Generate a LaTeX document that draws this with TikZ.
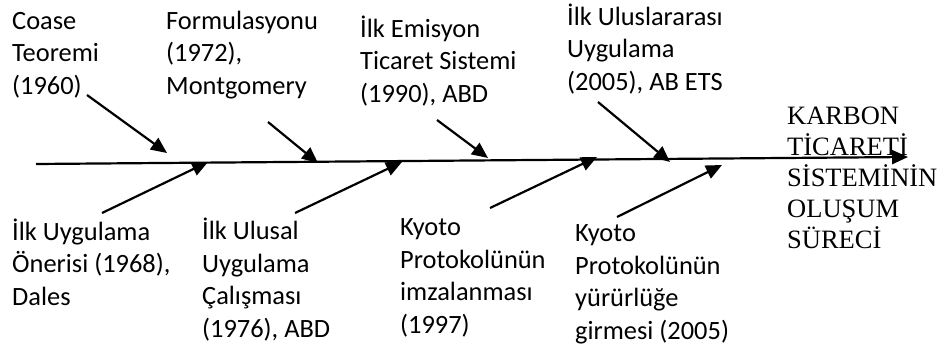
\documentclass[tikz,border=0pt]{standalone}
\usepackage{fontspec}
\setmainfont{Carlito}
\newfontfamily\titlefont{Liberation Serif}
\usetikzlibrary{arrows.meta}

\begin{document}
\begin{tikzpicture}[x=1pt,y=-1pt,
  lbl/.style={anchor=base west,align=left,inner sep=0pt,font=\fontsize{26.4}{32.5}\selectfont},
  branch/.style={line width=2.2pt,-{Triangle[length=16pt,width=14pt]}}]
  \useasboundingbox (0,0) rectangle (943,356);
  % labels above the spine (placed by the baseline of their last line)
  \node[lbl] (coase) at (12,94) {Coase\\Teoremi\\(1960)};
  \node[lbl] (formul) at (166,94) {Formulasyonu\\(1972),\\Montgomery};
  \node[lbl] (emisyon) at (360,102) {İlk Emisyon\\Ticaret Sistemi\\(1990), ABD};
  \node[lbl] (ulusl) at (567,90) {İlk Uluslararası\\Uygulama\\(2005), AB ETS};
  % labels below the spine
  \node[lbl] (oneri) at (12,305) {İlk Uygulama\\Önerisi (1968),\\Dales};
  \node[lbl] (ulusal) at (202,337) {İlk Ulusal\\Uygulama\\Çalışması\\(1976), ABD};
  \node[lbl] (imza) at (400,333) {Kyoto\\Protokolünün\\imzalanması\\(1997)};
  \node[lbl] (yururluk) at (575,339) {Kyoto\\Protokolünün\\yürürlüğe\\girmesi (2005)};
  \node[lbl,font=\titlefont\fontsize{26.5}{31}\selectfont] (baslik) at (787,248)
    {KARBON\\TİCARETİ\\SİSTEMİNİN\\OLUŞUM\\SÜRECİ};
  % spine
  \coordinate (bas) at (36,164);
  \coordinate (son) at (908,157);
  \draw[branch] (bas) -- (son);
  % branches
  \coordinate (s1) at (87,95);   \coordinate (e1) at (167,153);
  \coordinate (s2) at (102,213); \coordinate (e2) at (208,162);
  \coordinate (s3) at (268,122); \coordinate (e3) at (318,163);
  \coordinate (s4) at (295,213); \coordinate (e4) at (402,162);
  \coordinate (s5) at (437,120); \coordinate (e5) at (488,158);
  \coordinate (s6) at (490,208); \coordinate (e6) at (597,157);
  \coordinate (s7) at (598,102); \coordinate (e7) at (670,162);
  \coordinate (s8) at (617,217); \coordinate (e8) at (722,165);
  \foreach \i in {1,...,8}
    \draw[branch] (s\i) -- (e\i);
\end{tikzpicture}
\end{document}
